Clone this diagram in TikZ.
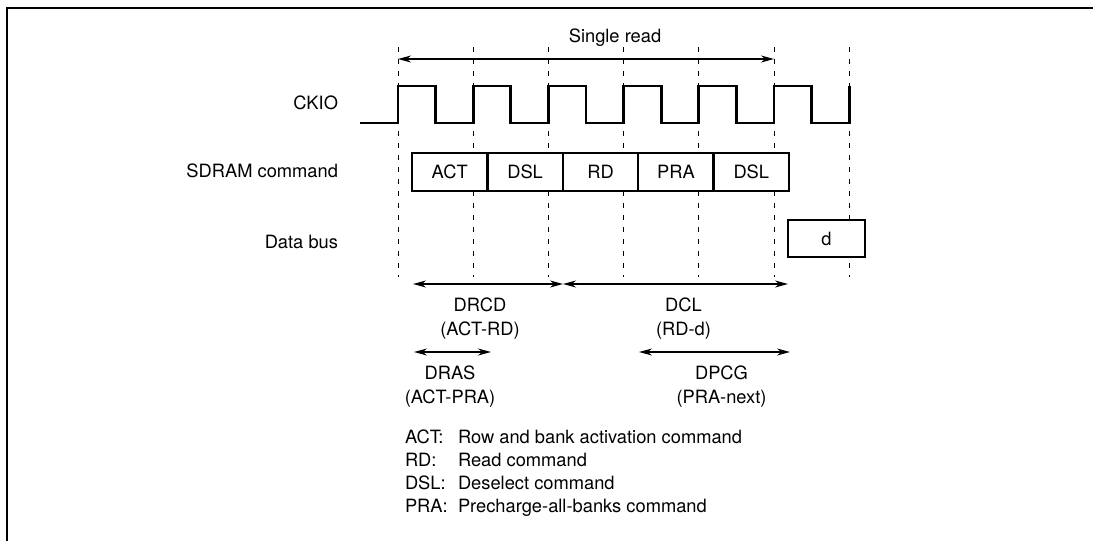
\documentclass[tikz,border=0pt]{standalone}
\usepackage{fontspec}
\setmainfont{TeX Gyre Heros}
\usetikzlibrary{arrows.meta,positioning}

\begin{document}
\begin{tikzpicture}[x=1pt,y=-1pt,
  >={Stealth[length=13pt,width=7pt]},
  every node/.style={font=\fontsize{18.3}{24}\selectfont, inner sep=0pt, outer sep=0pt},
  clkgrid/.style={line width=1pt, dash pattern=on 5pt off 7pt},
  clockline/.style={line width=2.8pt},
  cmdbox/.style={draw, fill=white, line width=2.3pt, minimum width=75.4pt, minimum height=38pt},
  span/.style={<->, line width=1.2pt},
  lbl/.style={align=center}]

  \useasboundingbox (0,0) rectangle (1093,541);

  % Frame
  \draw[line width=2.2pt] (1093,8) -- (7,8) -- (7,541);

  % Clock edges
  \foreach \i in {0,...,6}
    \draw[clkgrid] ({398+75.2*\i},47) -- ({398+75.2*\i},277);

  % Signal names
  \node[anchor=base east] (ckio) at (338,109) {CKIO};
  \node[anchor=base east] (cmdname) at (338,177) {SDRAM command};
  \node[anchor=base east] (busname) at (338,248) {Data bus};

  % CKIO
  \draw[clockline] (360,123) -- (398,123)
    \foreach \i in {0,...,5}{ |- ++(37.6,-37) |- ++(37.6,37) } -- ++(0,-37);

  % SDRAM commands
  \node[cmdbox] (act) at (449.7,172) {ACT};
  \node[cmdbox, right=0pt of act] (dsl1) {DSL};
  \node[cmdbox, right=0pt of dsl1] (rd) {RD};
  \node[cmdbox, right=0pt of rd] (pra) {PRA};
  \node[cmdbox, right=0pt of pra] (dsl2) {DSL};

  % Data bus
  \node[cmdbox, minimum width=77pt, minimum height=37pt] (d) at (826.5,238.5) {d};

  % Single read
  \coordinate (sr1) at (398,59);
  \coordinate (sr2) at (774,59);
  \draw[span] (sr1) -- (sr2);
  \node[anchor=base] (srlabel) at (615,42) {Single read};

  % Timing parameters
  \coordinate (drcd1) at (413,284);
  \coordinate (drcd2) at (563,284);
  \coordinate (dcl2) at (788,284);
  \coordinate (dras1) at (414,352);
  \coordinate (dras2) at (491,352);
  \coordinate (dpcg1) at (639,352);
  \coordinate (dpcg2) at (790,352);
  \draw[span] (drcd1) -- (drcd2);
  \draw[span] (drcd2) -- (dcl2);
  \draw[span] (dras1) -- (dras2);
  \draw[span] (dpcg1) -- (dpcg2);

  \node[lbl] (drcd) at (480,319) {DRCD\\(ACT-RD)};
  \node[lbl] (dcl) at (683.5,319) {DCL\\(RD-d)};
  \node[lbl] (dras) at (450,387) {DRAS\\(ACT-PRA)};
  \node[lbl] (dpcg) at (721.5,387) {DPCG\\(PRA-next)};

  % Legend
  \foreach \k/\v [count=\n] in {ACT:/Row and bank activation command,
      RD:/Read command, DSL:/Deselect command, PRA:/Precharge-all-banks command}
  {
    \node[anchor=base west] (key\n) at (405,{443+23.3*(\n-1)}) {\k};
    \node[anchor=base west] (val\n) at (458,{443+23.3*(\n-1)}) {\v};
  }

\end{tikzpicture}
\end{document}
